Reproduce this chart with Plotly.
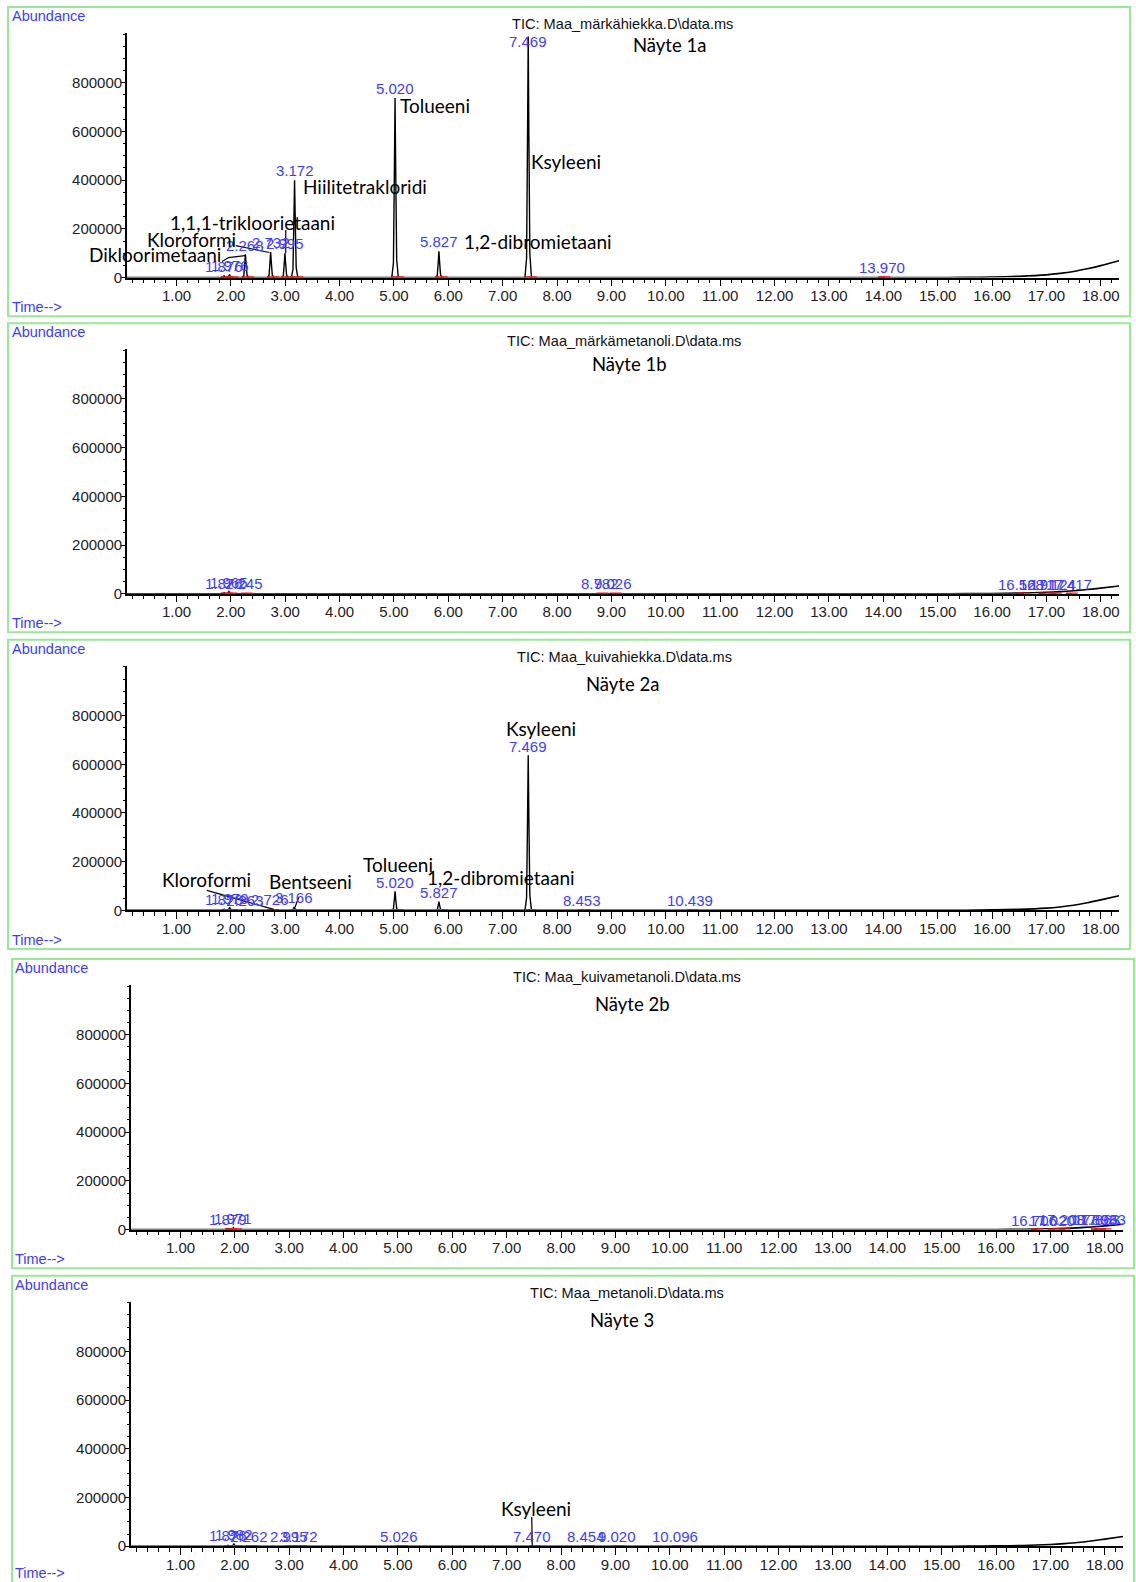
import plotly.graph_objects as go

FIG_W, FIG_H = 1136, 1582

# ---------------------------------------------------------------- data
x_tick_vals = list(range(1, 19))
x_tick_text = [f"{v}.00" for v in x_tick_vals]
y_tick_vals = [0, 200000, 400000, 600000, 800000]
y_tick_text = ["0", "200000", "400000", "600000", "800000"]

file_titles = [
    "TIC: Maa_märkähiekka.D\\data.ms",
    "TIC: Maa_märkämetanoli.D\\data.ms",
    "TIC: Maa_kuivahiekka.D\\data.ms",
    "TIC: Maa_kuivametanoli.D\\data.ms",
    "TIC: Maa_metanoli.D\\data.ms",
]
sample_names = ["Näyte 1a", "Näyte 1b", "Näyte 2a", "Näyte 2b", "Näyte 3"]

# integrated peaks: retention time (min) and apex abundance
rt_1a = [1.876, 1.976, 2.268, 2.732, 2.995, 3.172, 5.020, 5.827, 7.469, 13.970]
h_1a = [7000, 12000, 95000, 105000, 100000, 400000, 738000, 108000, 990000, 1500]

rt_1b = [1.876, 1.965, 2.245, 8.782, 9.026, 16.528, 16.917, 17.124, 17.417]
h_1b = [4000, 9000, 3000, 2000, 2000, 1000, 1000, 1500, 1500]

rt_2a = [1.876, 1.979, 2.263, 2.726, 3.166, 5.020, 5.827, 7.469, 8.453, 10.439]
h_2a = [5000, 12000, 4000, 5000, 14000, 78000, 36000, 637000, 2000, 1500]

rt_2b = [1.879, 1.971, 16.706, 17.020, 17.208, 17.803, 17.863, 17.963]
h_2b = [4000, 8000, 1000, 1000, 1500, 2000, 2000, 2000]

rt_3 = [1.876, 1.982, 2.262, 2.995, 3.172, 5.026, 7.470, 8.454, 9.020, 10.096]
h_3 = [4000, 9000, 2000, 2000, 3000, 1500, 3000, 1000, 1000, 1000]

# baseline (column bleed) points: time (min) and abundance
bleed_t = [0.088, 15.0, 15.5, 16.0, 16.5, 17.0, 17.25, 17.5, 17.75, 18.0, 18.335]
bleed_1a = [0, 0, 500, 2000, 5000, 11000, 17000, 25000, 36000, 49000, 69000]
bleed_1b = [0, 0, 200, 1000, 2500, 6000, 8500, 12000, 17000, 23000, 32000]
bleed_2a = [0, 0, 400, 2000, 4000, 9000, 14000, 21000, 31000, 43000, 60000]
bleed_2b = [0, 0, 0, 300, 1000, 3000, 4800, 7000, 10500, 15000, 22000]
bleed_3 = [0, 0, 300, 1500, 3000, 7000, 10500, 15000, 21500, 29000, 40000]

# identified compounds per chromatogram
names_1a = ["Dikloorimetaani", "Kloroformi", "1,1,1-trikloorietaani",
            "Hiilitetrakloridi", "Tolueeni", "1,2-dibromietaani", "Ksyleeni"]
names_1b = []
names_2a = ["Kloroformi", "Bentseeni", "Tolueeni", "1,2-dibromietaani", "Ksyleeni"]
names_2b = []
names_3 = ["Ksyleeni"]

# ---------------------------------------------------------------- layout
ARIAL = "Liberation Sans, Arial, sans-serif"
CALIBRI = "Lato, Carlito, Calibri, sans-serif"
BLUE = "#3d3dff"
GREEN = "#98e898"

V_SCALE = 1.0056          # vertical page stretch of the stacked report
PANEL_TOP = [7, 323, 639.5, 958.5, 1275]
PANEL_SHIFT = [0, 0, 0, 4, 4]
CAPTION_X = [10, 10, 10, 13, 13]
TIME_DY = [299.7, 299.7, 299.7, 299.7, 297.5]
PANEL_H = 309
AXIS_LEFT, AXIS_RIGHT = 127, 1120
AXIS_TOP, AXIS_ZERO = 26, 270.4
T_MIN, T_MAX = 0.088, 18.335
Y_MAX = 1004500
LABEL_LIFT = 38000
LABEL_CAP = 969000

# sample heading placement: (TIC centre x, TIC dy, sample centre x, sample dy)
heading_pos = [
    (623, 17.2, 670, 38.4),
    (625, 18.0, 630, 41.2),
    (625, 17.3, 623, 44.5),
    (628, 18.1, 633, 45.3),
    (628, 17.4, 623, 44.6),
]

# compound label positions (time, abundance) in panel data units
name_pos = [
    [(0.60, 96000), (1.28, 156000), (2.40, 225000), (4.46, 375000),
     (5.75, 708000), (7.64, 149000), (8.17, 476000)],
    [],
    [(1.555, 128500), (3.47, 120000), (5.08, 186500), (6.96, 137000), (7.71, 746000)],
    [],
    [(7.53, 153000)],
]

# leader lines from compound labels to their peaks
leaders = [
    [[(1.84, 66000), (1.96, 82000), (2.26, 90000)],
     [(2.09, 131000), (2.71, 103000)],
     [(3.01, 195000), (3.01, 100000)]],
    [],
    [[(1.56, 82000), (2.79, 4000)],
     [(3.25, 55000), (3.18, 13000)]],
    [],
    [[(7.46, 120000), (7.47, 3000)]],
]

# peak outline shape (offset in min, fraction of apex)
PROFILE_DT = [-0.06, -0.03, -0.012, 0.0, 0.012, 0.03, 0.06]
PROFILE_F = [0.0, 0.08, 0.6, 1.0, 0.6, 0.1, 0.0]

panels = [
    (rt_1a, h_1a, bleed_1a, names_1a),
    (rt_1b, h_1b, bleed_1b, names_1b),
    (rt_2a, h_2a, bleed_2a, names_2a),
    (rt_2b, h_2b, bleed_2b, names_2b),
    (rt_3, h_3, bleed_3, names_3),
]


def px_x(x):
    return x / FIG_W


def px_y(y):
    return 1 - y * V_SCALE / FIG_H


fig = go.Figure()
annotations = []
shapes = []
layout_axes = {}

for i, (rts, heights, bleed, names) in enumerate(panels):
    suf = "" if i == 0 else str(i + 1)
    xref, yref = "x" + suf, "y" + suf
    top = PANEL_TOP[i]
    sh = PANEL_SHIFT[i]

    # baseline with bleed rise
    fig.add_trace(go.Scatter(x=bleed_t, y=bleed, mode="lines",
                             line=dict(color="black", width=1.6, shape="spline", smoothing=0.6),
                             xaxis=xref, yaxis=yref, hoverinfo="skip"))

    # peaks
    px, py = [], []
    for t, h in zip(rts, heights):
        for dt, f in zip(PROFILE_DT, PROFILE_F):
            px.append(t + dt)
            py.append(h * f)
        px.append(None)
        py.append(None)
    fig.add_trace(go.Scatter(x=px, y=py, mode="lines",
                             line=dict(color="black", width=1.4),
                             xaxis=xref, yaxis=yref, hoverinfo="skip"))

    # integration markers
    rx, ry = [], []
    for t in rts:
        rx += [t - 0.06, t + 0.16, None]
        ry += [0, 0, None]
    fig.add_trace(go.Scatter(x=rx, y=ry, mode="lines",
                             line=dict(color="#ff1010", width=2.5),
                             xaxis=xref, yaxis=yref, hoverinfo="skip"))

    # leader lines
    for seg in leaders[i]:
        fig.add_trace(go.Scatter(x=[p[0] for p in seg], y=[p[1] for p in seg],
                                 mode="lines", line=dict(color="black", width=1.2),
                                 xaxis=xref, yaxis=yref, hoverinfo="skip"))

    # retention time labels
    for t, h in zip(rts, heights):
        annotations.append(dict(x=t, y=min(h + LABEL_LIFT, LABEL_CAP), xref=xref, yref=yref,
                                text=f"{t:.3f}", showarrow=False, xanchor="center",
                                yanchor="middle", font=dict(family=ARIAL, size=15, color=BLUE)))

    # compound names
    for name, (t, a) in zip(names, name_pos[i]):
        annotations.append(dict(x=t, y=a, xref=xref, yref=yref, text=name, showarrow=False,
                                xanchor="center", yanchor="middle",
                                font=dict(family=CALIBRI, size=19, color="black")))

    # headings
    tx, tdy, sx, sdy = heading_pos[i]
    annotations.append(dict(x=px_x(tx), y=px_y(top + tdy), xref="paper", yref="paper",
                            text=file_titles[i], showarrow=False, xanchor="center",
                            yanchor="middle", font=dict(family=ARIAL, size=14.6, color="#111")))
    annotations.append(dict(x=px_x(sx), y=px_y(top + sdy), xref="paper", yref="paper",
                            text=sample_names[i], showarrow=False, xanchor="center",
                            yanchor="middle", font=dict(family=CALIBRI, size=18.5, color="black")))
    annotations.append(dict(x=px_x(CAPTION_X[i]), y=px_y(top + 9), xref="paper", yref="paper",
                            text="Abundance", showarrow=False, xanchor="left",
                            yanchor="middle", font=dict(family=ARIAL, size=14.5, color=BLUE)))
    annotations.append(dict(x=px_x(CAPTION_X[i]), y=px_y(top + TIME_DY[i]), xref="paper",
                            yref="paper", text="Time-->", showarrow=False, xanchor="left",
                            yanchor="middle", font=dict(family=ARIAL, size=14.5, color=BLUE)))

    # panel frame
    shapes.append(dict(type="rect", xref="paper", yref="paper",
                       x0=px_x(8 + sh), x1=px_x(1131 + sh),
                       y0=px_y(top + PANEL_H), y1=px_y(top),
                       line=dict(color=GREEN, width=2), fillcolor="rgba(0,0,0,0)"))

    layout_axes["xaxis" + suf] = dict(
        domain=[px_x(AXIS_LEFT + sh), px_x(AXIS_RIGHT + sh)], range=[T_MIN, T_MAX],
        anchor=yref, tickmode="array", tickvals=x_tick_vals, ticktext=x_tick_text,
        ticks="outside", ticklen=7, tickwidth=1, tickcolor="black",
        showline=True, linecolor="black", linewidth=1.5, showgrid=False, zeroline=False,
        tickfont=dict(family=ARIAL, size=15, color="#222"), ticklabelstandoff=-3,
        minor=dict(tickmode="linear", tick0=0, dtick=0.2, ticks="outside", ticklen=4,
                   tickwidth=1, tickcolor="black", showgrid=False),
        fixedrange=True)
    layout_axes["yaxis" + suf] = dict(
        domain=[px_y(top + AXIS_ZERO), px_y(top + AXIS_TOP)], range=[0, Y_MAX],
        anchor=xref, tickmode="array", tickvals=y_tick_vals, ticktext=y_tick_text,
        ticks="outside", ticklen=4, tickwidth=1, tickcolor="black",
        showline=True, linecolor="black", linewidth=1.5, showgrid=False, zeroline=False,
        tickfont=dict(family=ARIAL, size=15, color="#222"), ticklabelstandoff=-4,
        minor=dict(tickmode="linear", tick0=0, dtick=50000, ticks="outside", ticklen=2,
                   tickwidth=1, tickcolor="black", showgrid=False),
        fixedrange=True)

fig.update_layout(
    width=FIG_W, height=FIG_H, autosize=False, margin=dict(l=0, r=0, t=0, b=0, pad=0),
    paper_bgcolor="white", plot_bgcolor="white", showlegend=False,
    annotations=annotations, shapes=shapes, **layout_axes)

fig.write_html("out.html", config={"displayModeBar": False})
